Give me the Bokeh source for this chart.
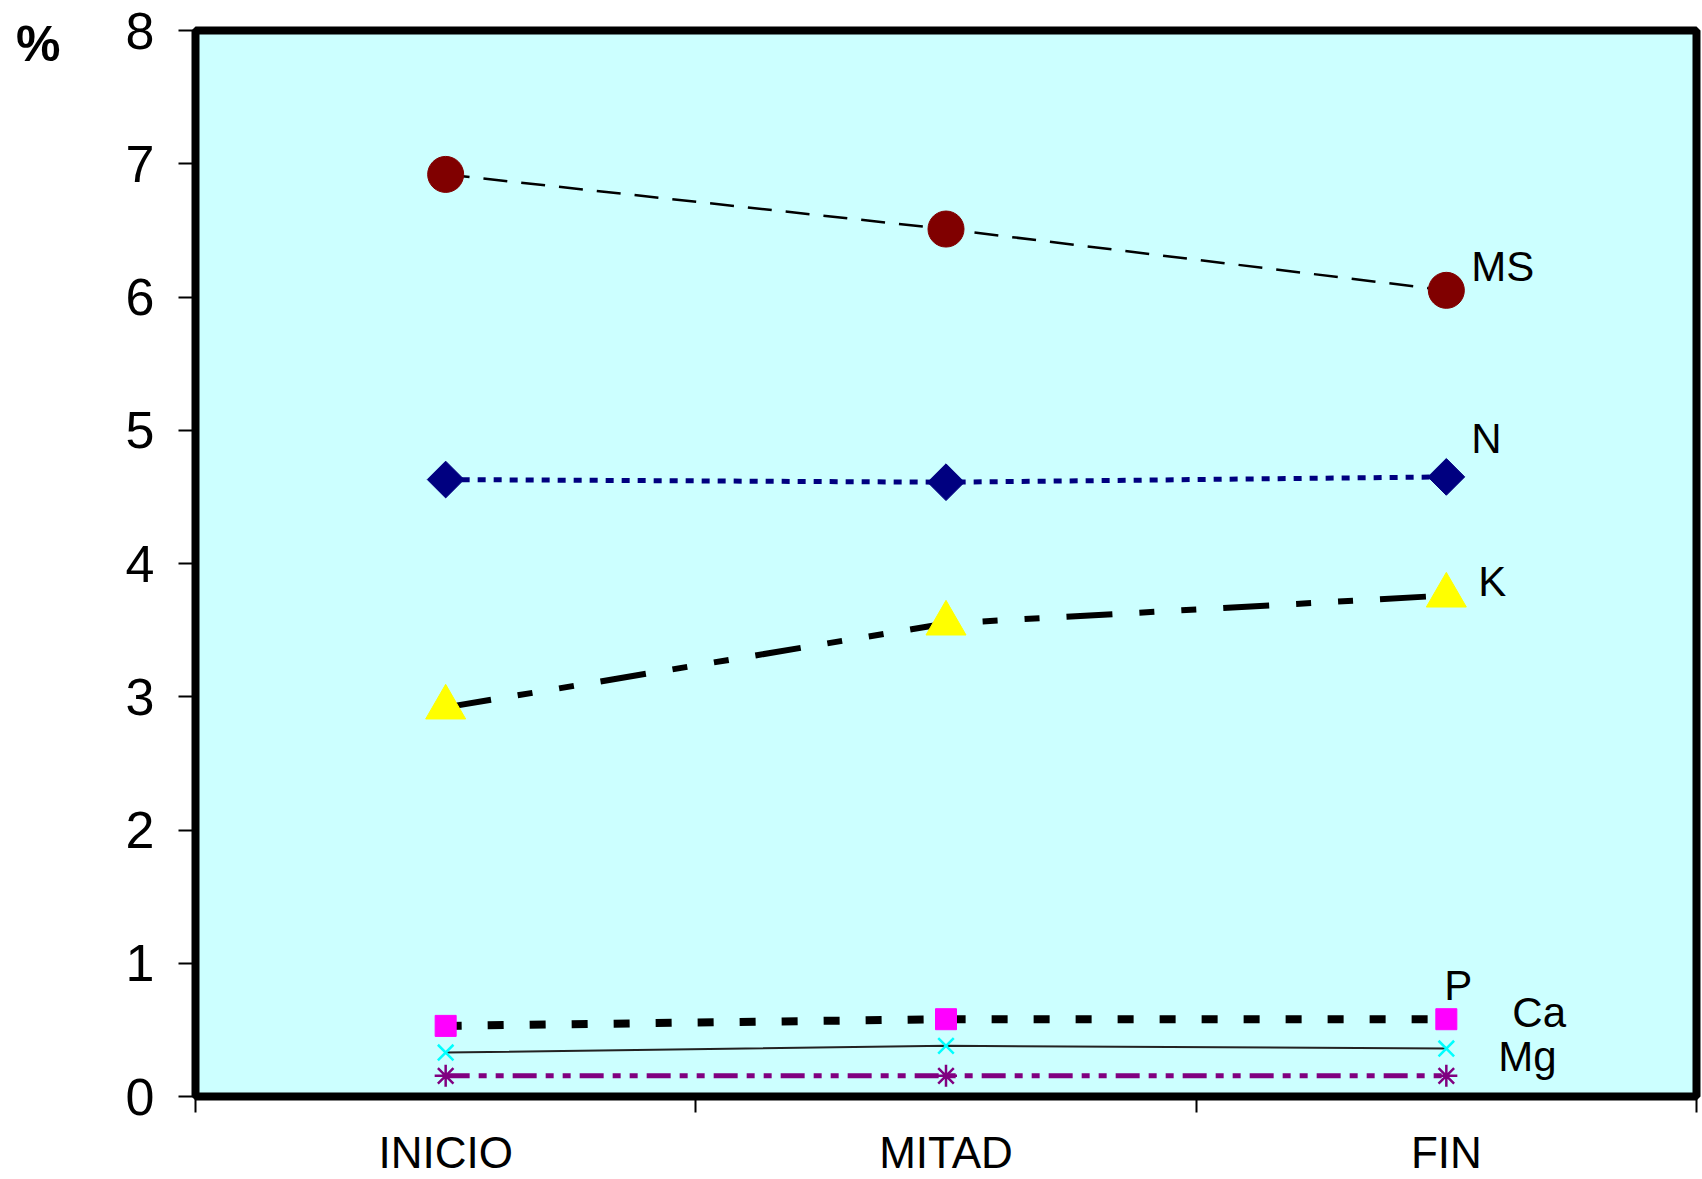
from bokeh.plotting import figure
from bokeh.models import Range1d, FixedTicker, Label, LinearAxis
from bokeh.embed import file_html
from bokeh.resources import INLINE
import math

# ---- data ----
stages = ["INICIO", "MITAD", "FIN"]
stage_pos = [0.5, 1.5, 2.5]
stage_bounds = [0, 1, 2, 3]
y_ticks = [0, 1, 2, 3, 4, 5, 6, 7, 8]
unit_label = "%"

ms_vals = [6.92, 6.51, 6.05]
n_vals = [4.63, 4.61, 4.65]
k_vals = [2.92, 3.55, 3.76]
p_vals = [0.53, 0.58, 0.58]
ca_vals = [0.33, 0.38, 0.36]
mg_vals = [0.155, 0.155, 0.155]

series_names = ["MS", "N", "K", "P", "Ca", "Mg"]
series_vals = [ms_vals, n_vals, k_vals, p_vals, ca_vals, mg_vals]

# ---- styles ----
line_colors = ["black", "#000080", "black", "black", "#222222", "#800080"]
line_widths = [2.5, 5, 6, 8, 2, 5]
line_dashes = ["24 14", "8 8", "46 27 15 27 15 27", "16 26", "solid", "24 9 8 9 8 9"]
markers = ["circle", "square", "triangle", "square", "x", "asterisk"]
marker_angles = [0, math.pi / 4, 0, 0, 0, 0]
marker_sizes = [36, 26, 40, 21, 22, 22]
marker_fill = ["#800000", "#000080", "#FFFF00", "#FF00FF", None, None]
marker_line = ["#800000", "#000080", "#FFFF00", "#FF00FF", "#00FFFF", "#800080"]
marker_lw = [1, 1, 1, 1, 2.5, 2.5]
label_dx = [25, 25, 32, -2, 66, 52]
label_dy = [24, 38, 14, 34, 36, 19]
unit_shift = 0.1  # visual nudge of the "%" unit label below the top tick

p = figure(width=1702, height=1179, output_backend="svg", toolbar_location=None,
           x_range=Range1d(0, 3), y_range=Range1d(0, 8),
           min_border_left=195, min_border_right=6, min_border_top=30, min_border_bottom=40)
p.extra_y_ranges = {"unit": Range1d(y_ticks[0] + unit_shift, y_ticks[-1] + unit_shift)}

p.background_fill_color = "#CCFFFF"
p.border_fill_color = "white"
p.outline_line_color = "black"
p.outline_line_width = 8
p.grid.visible = False

for vals, lc, lw, ld in zip(series_vals, line_colors, line_widths, line_dashes):
    p.line(stage_pos, vals, line_color=lc, line_width=lw, line_dash=ld, line_cap="butt")
for vals, mk, ang, ms_, mf, ml, mlw in zip(series_vals, markers, marker_angles,
                                           marker_sizes, marker_fill, marker_line, marker_lw):
    p.scatter(stage_pos, vals, marker=mk, size=ms_, angle=ang,
              fill_color=mf, line_color=ml, line_width=mlw)

for name, vals, dx, dy in zip(series_names, series_vals, label_dx, label_dy):
    p.add_layout(Label(x=stage_pos[-1], y=vals[-1], text=name, x_offset=dx, y_offset=dy,
                       text_baseline="middle", text_align="left",
                       text_font="Liberation Sans", text_font_size="42px",
                       text_color="black"))

# y axis
yax = p.yaxis[0]
yax.ticker = FixedTicker(ticks=y_ticks)
yax.axis_line_color = None
yax.major_tick_out = 17
yax.major_tick_in = 0
yax.major_tick_line_width = 2
yax.major_tick_line_color = "black"
yax.minor_tick_line_color = None
yax.major_label_standoff = 24
yax.major_label_text_font = "Liberation Sans"
yax.major_label_text_font_size = "52px"
yax.major_label_text_color = "black"

# unit label axis ("%") further left
uax = LinearAxis(y_range_name="unit", ticker=FixedTicker(ticks=[y_ticks[-1]]),
                 major_label_overrides={y_ticks[-1]: unit_label})
uax.axis_line_color = None
uax.major_tick_line_color = None
uax.minor_tick_line_color = None
uax.major_tick_out = 0
uax.major_tick_in = 0
uax.major_label_standoff = 62
uax.major_label_text_font = "Liberation Sans"
uax.major_label_text_font_style = "bold"
uax.major_label_text_font_size = "50px"
uax.major_label_text_color = "black"
p.add_layout(uax, "left")

# x axis
xax = p.xaxis[0]
xax.ticker = FixedTicker(ticks=stage_pos, minor_ticks=stage_bounds)
xax.major_label_overrides = {pos: lab for pos, lab in zip(stage_pos, stages)}
xax.axis_line_color = None
xax.major_tick_line_color = None
xax.major_tick_out = 0
xax.major_tick_in = 0
xax.minor_tick_out = 16
xax.minor_tick_in = 0
xax.minor_tick_line_width = 2
xax.minor_tick_line_color = "black"
xax.major_label_standoff = 15
xax.major_label_text_font = "Liberation Sans"
xax.major_label_text_font_size = "44px"
xax.major_label_text_color = "black"

open("out.html", "w").write(file_html(p, INLINE))
